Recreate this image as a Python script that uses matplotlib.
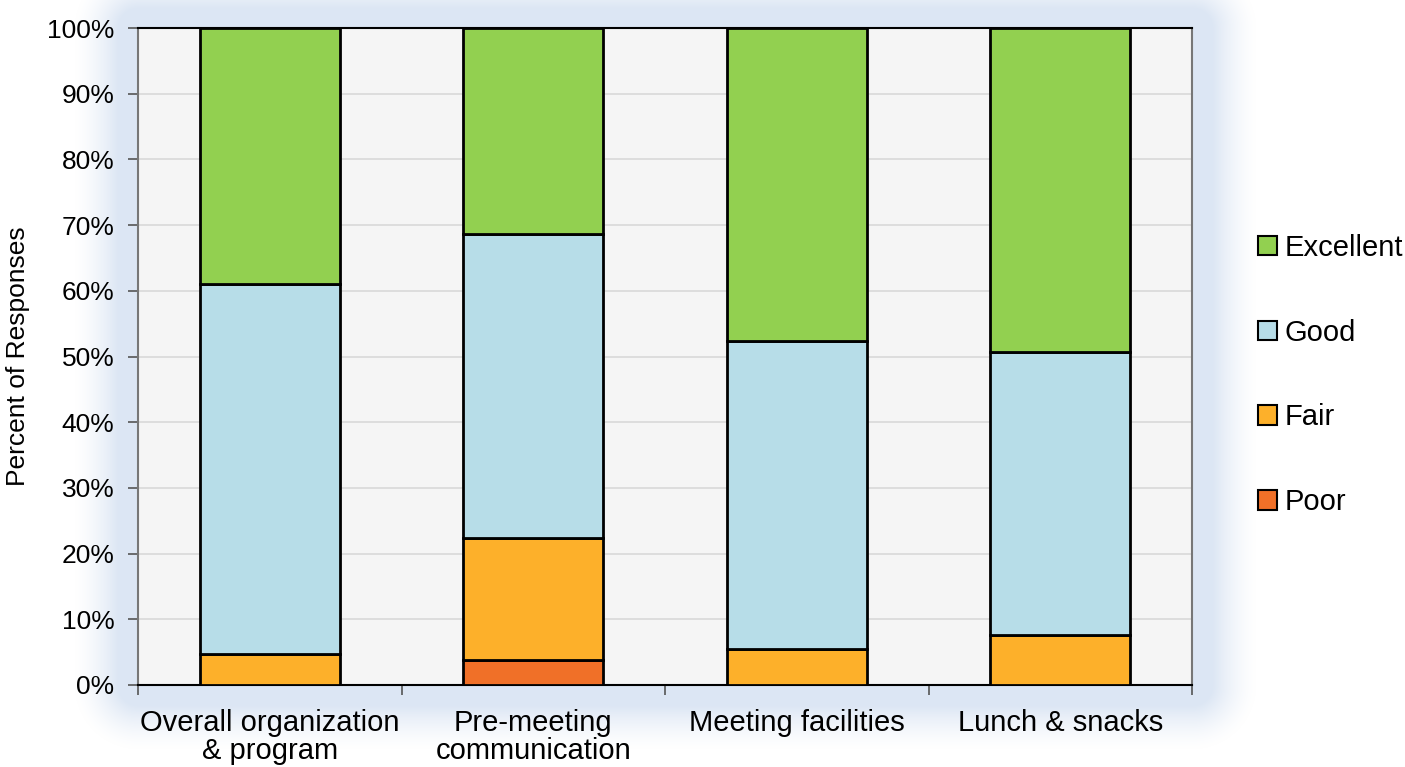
import numpy as np
import matplotlib
matplotlib.use('Agg')
import matplotlib.pyplot as plt
from matplotlib.ticker import PercentFormatter, FixedLocator

plt.rcParams['font.family'] = ['Liberation Sans', 'DejaVu Sans']

categories = ['Overall organization\n& program', 'Pre-meeting\ncommunication',
              'Meeting facilities', 'Lunch & snacks']
poor = [0.0, 3.8, 0.0, 0.0]
fair = [4.7, 18.6, 5.5, 7.6]
good = [56.3, 46.2, 46.9, 43.1]
excellent = [39.0, 31.4, 47.6, 49.3]

series = [('Poor', poor, '#f07028'), ('Fair', fair, '#fdb02a'),
          ('Good', good, '#b7dde8'), ('Excellent', excellent, '#92d050')]

W, H = 1405, 767
fig = plt.figure(figsize=(W / 100, H / 100), dpi=100)

# plot area in pixels
L, R, T, B = 138, 1192, 28, 685

# soft blue glow behind plot area
bg = fig.add_axes([0, 0, 1, 1], zorder=-5)
yy, xx = np.mgrid[0:H, 0:W]
dx = np.maximum(np.maximum(L - xx, xx - R), 0)
dy = np.maximum(np.maximum(T - yy, yy - B), 0)
d = np.hypot(dx, dy)
a = np.clip(1 - (d - 20) / 45, 0, 1) ** 1.5
img = np.ones((H, W, 4))
img[..., 0] = 0xdc / 255
img[..., 1] = 0xe6 / 255
img[..., 2] = 0xf4 / 255
img[..., 3] = a
bg.imshow(img, extent=[0, W, H, 0], aspect='auto')
bg.set_xlim(0, W)
bg.set_ylim(H, 0)
bg.axis('off')

ax = fig.add_axes([L / W, 1 - B / H, (R - L) / W, (B - T) / H])
ax.set_facecolor('#f5f5f5')

x = np.arange(len(categories))
bottom = np.zeros(len(categories))
handles = {}
for name, vals, col in series:
    vals = np.array(vals)
    h = ax.bar(x, vals, width=0.53, bottom=bottom, color=col,
               edgecolor='black', linewidth=2, label=name, zorder=3)
    handles[name] = h
    bottom += vals

ax.set_xlim(-0.5, len(categories) - 0.5)
ax.set_ylim(0, 100)
ax.set_yticks(np.arange(0, 101, 10))
ax.yaxis.set_major_formatter(PercentFormatter(decimals=0))
ax.grid(axis='y', color='#d9d9d9', linewidth=1.2, zorder=0)
ax.set_axisbelow(True)

ax.set_xticks(x)
ax.set_xticklabels(categories, fontsize=21, linespacing=1.0)
ax.xaxis.set_minor_locator(FixedLocator(np.arange(-0.5, len(categories), 1)))
ax.tick_params(axis='x', which='major', length=0, pad=17)
ax.tick_params(axis='x', which='minor', length=7, width=1.2, color='#555555')
ax.tick_params(axis='y', labelsize=19, length=7, width=1.2, color='#555555', pad=10)

ax.set_ylabel('Percent of Responses', fontsize=19, labelpad=12)

for s in ['left', 'right']:
    ax.spines[s].set_color('#777777')
    ax.spines[s].set_linewidth(1.5)
ax.spines['bottom'].set_color('black')
ax.spines['bottom'].set_linewidth(1.5)
ax.spines['top'].set_color('black')
ax.spines['top'].set_linewidth(1.5)

order = ['Excellent', 'Good', 'Fair', 'Poor']
leg = fig.legend([handles[n] for n in order], order, loc='center left',
                 bbox_to_anchor=(1232 / W, 1 - 375 / H), frameon=False,
                 fontsize=21, handlelength=0.65, handleheight=0.65,
                 handletextpad=0.25, labelspacing=1.95)
for p in leg.get_patches():
    p.set_linewidth(1.5)

fig.savefig('out.png', dpi=100)
